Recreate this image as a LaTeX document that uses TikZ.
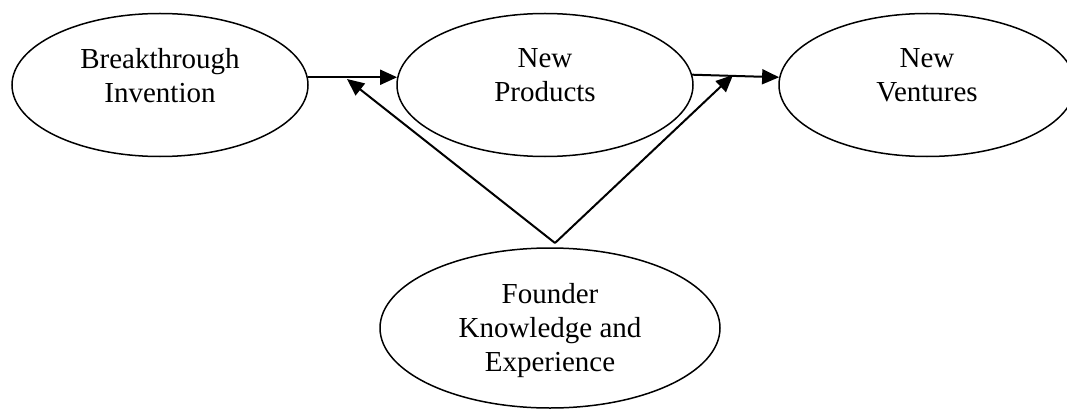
\documentclass[tikz,border=0pt]{standalone}
\usepackage{fontspec}
\setmainfont{Liberation Serif}
\usepackage{tikz}
\usetikzlibrary{arrows.meta}
\usetikzlibrary{shapes.geometric}
\usetikzlibrary{positioning}
\tikzstyle{stage} = [ellipse, draw, line width = 1.5pt, inner sep = 0, align = center,
    font = \fontsize{29}{34}\selectfont, minimum width = 296pt, minimum height = 143pt, text depth = 19pt]
\tikzstyle{source stage} = [stage, minimum width = 340pt, minimum height = 160pt, text depth = 2pt]
\tikzstyle{link} = [line width = 2pt, -{Triangle[length = 17pt, width = 15pt]}]
\tikzstyle{flow picture} = [x = 1pt, y = -1pt]

\begin{document}
\begin{tikzpicture}[flow picture]
            \useasboundingbox (0, 0) rectangle (1067, 409);
            \node [stage] (invention) at (160, 85) {Breakthrough\\Invention};
            \node [stage] (products) at (545, 85) {New\\Products};
            \node [stage] (ventures) at (927, 85) {New\\Ventures};
            \node [source stage] (founder) at (550, 328) {Founder\\Knowledge and\\Experience};
            \coordinate (apex) at (555, 243);
            \coordinate (left tip) at (347, 79);
            \coordinate (right tip) at (733, 75);
            \draw [link] (invention.3) -- (products.177);
            \draw [link] (products.4) -- (ventures.177);
            \draw [link] (apex) -- (left tip);
            \draw [link] (apex) -- (right tip);
        \end{tikzpicture}
\end{document}
